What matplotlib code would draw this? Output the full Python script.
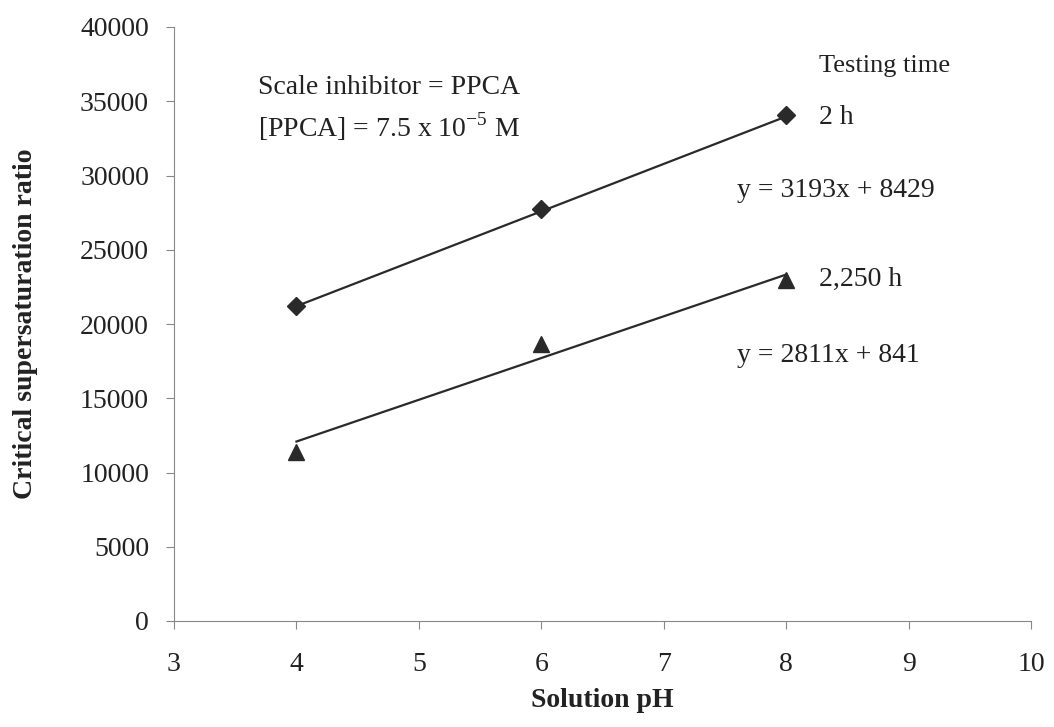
import numpy as np
import matplotlib.pyplot as plt

ph = [4, 6, 8]
csr_2h = [21200, 27750, 34050]
csr_2250h = [11400, 18650, 22950]
fit_2h = (3193, 8429)
fit_2250h = (2811, 841)

plt.rcParams['font.family'] = ['Liberation Serif', 'DejaVu Serif']

fig = plt.figure(figsize=(10.54, 7.27), dpi=100)
ax = fig.add_axes([174 / 1054, 106 / 727, (1031 - 174) / 1054, (621 - 27) / 727])

xs = np.array([4, 8])
ax.plot(xs, fit_2h[0] * xs + fit_2h[1], color='#2a2a2a', lw=1.6)
ax.plot(xs, fit_2250h[0] * xs + fit_2250h[1], color='#2a2a2a', lw=1.6)
ax.plot(ph, csr_2h, linestyle='none', marker='D', ms=9, color='#2a2a2a')
ax.plot(ph, csr_2250h, linestyle='none', marker='^', ms=12, color='#2a2a2a')

ax.set_xlim(3, 10)
ax.set_ylim(0, 40000)
ax.set_xticks(range(3, 11))
ax.set_yticks(range(0, 40001, 5000))
for s in ['top', 'right']:
    ax.spines[s].set_visible(False)
for s in ['left', 'bottom']:
    ax.spines[s].set_color('#888888')
ax.tick_params(direction='out', length=6, color='#888888', labelsize=20, labelcolor='#222222')
ax.tick_params(axis='x', pad=16)
ax.tick_params(axis='y', pad=12)

ax.set_xlabel('Solution pH', fontsize=20, fontweight='bold', color='#222222')
ax.xaxis.set_label_coords(0.5, -0.112)
ax.set_ylabel('Critical supersaturation ratio', fontsize=20, fontweight='bold', labelpad=30, color='#222222')

txt = dict(fontsize=20, color='#222222', va='center')
ax.text(3.69, 35900, 'Scale inhibitor = PPCA', **txt)
ax.text(3.69, 33300, r'[PPCA] = 7.5 x 10$^{\mathregular{-5}}$ M', **txt)
ax.text(8.27, 37350, 'Testing time', fontsize=19, color='#222222', va='center')
ax.text(8.27, 33900, '2 h', **txt)
ax.text(7.6, 29000, 'y = 3193x + 8429', **txt)
ax.text(8.27, 23000, '2,250 h', **txt)
ax.text(7.6, 17900, 'y = 2811x + 841', **txt)

fig.savefig('out.png', dpi=100)
